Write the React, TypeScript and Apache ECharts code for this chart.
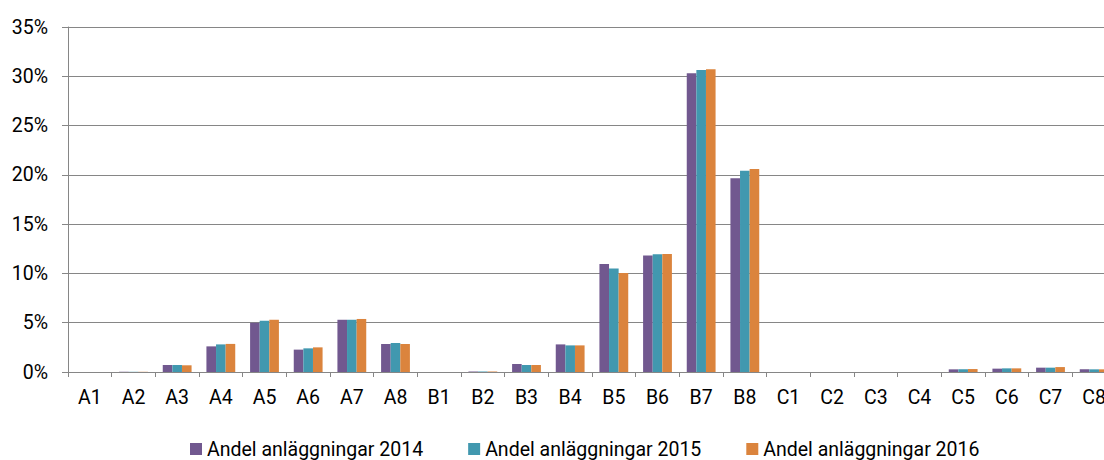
import React, { useEffect, useRef } from "react";
import * as echarts from "echarts";

const categories = [
  "A1", "A2", "A3", "A4", "A5", "A6", "A7", "A8",
  "B1", "B2", "B3", "B4", "B5", "B6", "B7", "B8",
  "C1", "C2", "C3", "C4", "C5", "C6", "C7", "C8",
];
const seriesNames = ["Andel anläggningar 2014", "Andel anläggningar 2015", "Andel anläggningar 2016"];
const values2014 = [0, 0.03, 0.71, 2.6, 5.0, 2.27, 5.3, 2.84, 0, 0.05, 0.81, 2.8, 10.96, 11.83, 30.3, 19.65, 0, 0, 0, 0, 0.27, 0.34, 0.44, 0.28];
const values2015 = [0, 0.02, 0.71, 2.8, 5.2, 2.4, 5.3, 2.94, 0, 0.05, 0.71, 2.7, 10.5, 11.94, 30.64, 20.42, 0, 0, 0, 0, 0.28, 0.37, 0.44, 0.27];
const values2016 = [0, 0.02, 0.68, 2.85, 5.3, 2.5, 5.38, 2.84, 0, 0.05, 0.71, 2.7, 10.04, 11.97, 30.71, 20.6, 0, 0, 0, 0, 0.3, 0.37, 0.5, 0.27];
const colors = ["#71588F", "#4198AF", "#DB843D"];

export default function App() {
  const ref = useRef<HTMLDivElement>(null);
  useEffect(() => {
    if (!ref.current) return;
    const chart = echarts.init(ref.current, undefined, { renderer: "svg" });
    const font = "Roboto";
    const fs = 19.5;
    const data = [values2014, values2015, values2016];
    chart.setOption({
      animation: false,
      color: colors,
      textStyle: { fontFamily: font },
      grid: { left: 68, right: 4, top: 27, bottom: 88, containLabel: false },
      legend: {
        left: 185,
        top: 434,
        itemWidth: 12,
        itemHeight: 12,
        itemGap: 45,
        icon: "rect",
        textStyle: { fontFamily: font, fontSize: fs, color: "#000" },
        data: seriesNames,
      },
      xAxis: {
        type: "category",
        data: categories,
        axisLine: { lineStyle: { color: "#868686", width: 1 } },
        axisTick: { show: true, length: 5, lineStyle: { color: "#868686" } },
        axisLabel: { fontFamily: font, fontSize: fs, color: "#000", margin: 15, interval: 0 },
      },
      yAxis: {
        type: "value",
        min: 0,
        max: 35,
        interval: 5,
        axisLine: { show: true, lineStyle: { color: "#868686", width: 1 } },
        axisTick: { show: true, length: 6, lineStyle: { color: "#868686" } },
        splitLine: { lineStyle: { color: "#868686", width: 1 } },
        axisLabel: { fontFamily: font, fontSize: fs, color: "#000", margin: 20, formatter: "{value}%" },
      },
      series: seriesNames.map((name, i) => ({
        name,
        type: "bar",
        data: data[i],
        barGap: "0%",
        barCategoryGap: "34%",
        itemStyle: { color: colors[i] },
      })),
    });
    return () => chart.dispose();
  }, []);
  return (
    <div
      style={{ position: "absolute", left: 0, top: 0, width: 1104, height: 460, overflow: "hidden", background: "#fff" }}
    >
      <div ref={ref} style={{ width: 1120, height: 460 }} />
    </div>
  );
}
